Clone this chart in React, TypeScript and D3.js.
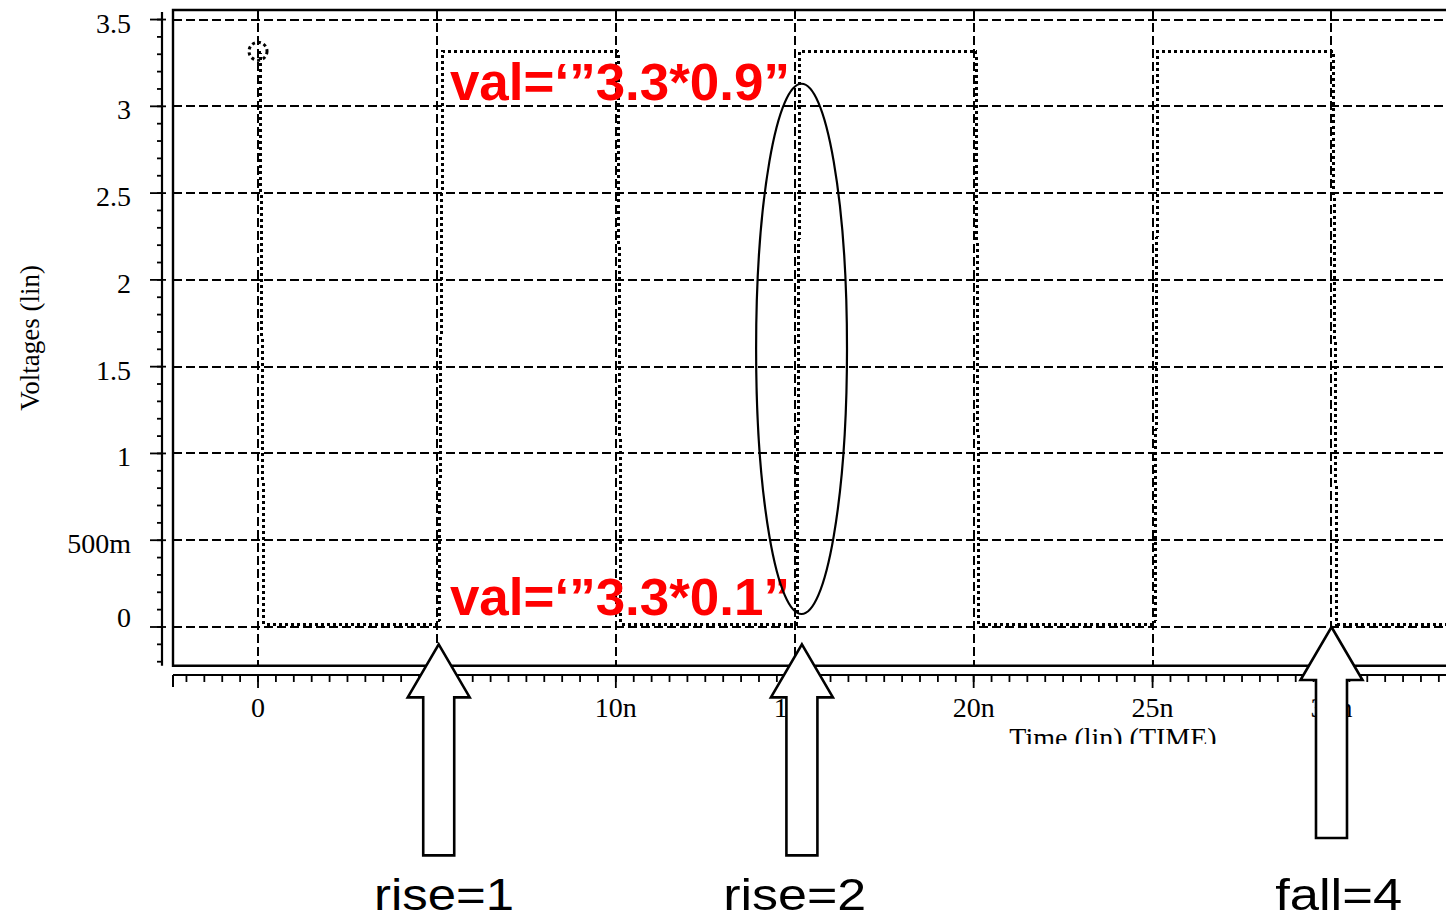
import React, { useEffect, useRef } from "react";
import * as d3 from "d3";

// transient waveform (time in ns, volts)
const timeNs = [0, 0.1, 5, 5.1, 10, 10.1, 15, 15.1, 20, 20.1, 25, 25.1, 30, 30.1, 34];
const voltage = [3.3, 0, 0, 3.3, 3.3, 0, 0, 3.3, 3.3, 0, 0, 3.3, 3.3, 0, 0];

const yMajorTicks = [0, 0.5, 1, 1.5, 2, 2.5, 3, 3.5];
const yTickLabels = ["0", "500m", "1", "1.5", "2", "2.5", "3", "3.5"];
const xMajorTicks = [0, 5, 10, 15, 20, 25, 30];
const xTickLabels = ["0", "5n", "10n", "15n", "20n", "25n", "30n"];

// annotations
const levelNotes = ["val=\u2018\u201d3.3*0.9\u201d", "val=\u2018\u201d3.3*0.1\u201d"];
const ellipseTime = [13.92, 16.46];
const ellipseVolt = [0.075, 3.13];
const arrowTimes = [5.05, 15.2, 30];
const arrowTipVolt = [-0.1, -0.1, 0];
const arrowLabels = ["rise=1", "rise=2", "fall=4"];
const arrowLabelTimes = [5.2, 15, 30.2];

const W = 1446, H = 921;

export default function App() {
    const ref = useRef(null);

    useEffect(() => {
        const svg = d3.select(ref.current);
        svg.selectAll("*").remove();

        const x = d3.scaleLinear().domain([-2.376, 33.2]).range([173, 1446]);
        const y = d3.scaleLinear().domain([-0.223, 3.555]).range([665.7, 10]);
        const serif = "'Liberation Serif', 'Times New Roman', serif";
        const sans = "'Liberation Sans', Arial, sans-serif";
        const px = v => Math.round(v); // snap to pixel grid, 2px strokes stay sharp

        // grid
        const grid = svg.append("g").attr("stroke", "#000").attr("stroke-width", 2)
            .attr("stroke-dasharray", "9,4").attr("shape-rendering", "crispEdges");
        grid.selectAll(".hg").data(yMajorTicks).join("line")
            .attr("x1", 173).attr("x2", W)
            .attr("y1", d => px(y(d))).attr("y2", d => px(y(d)));
        grid.selectAll(".vg").data(xMajorTicks).join("line")
            .attr("x1", d => px(x(d))).attr("x2", d => px(x(d)))
            .attr("y1", 10).attr("y2", 665.7);

        // frame
        svg.append("path")
            .attr("d", `M${W},10H173V665.7H${W}`)
            .attr("fill", "none").attr("stroke", "#000").attr("stroke-width", 2.4);

        // waveform (drawn a hair off the grid, like the simulator trace)
        const pts = timeNs.map((t, i) => [t, voltage[i]]);
        const line = d3.line().x(d => px(x(d[0])) + 2).y(d => px(y(d[1])) - 3);
        svg.append("path")
            .attr("d", line(pts))
            .attr("fill", "none").attr("stroke", "#000").attr("stroke-width", 3)
            .attr("stroke-dasharray", "3,3").attr("shape-rendering", "crispEdges");
        svg.append("circle")
            .attr("cx", x(timeNs[0])).attr("cy", y(voltage[0]) - 3).attr("r", 9)
            .attr("fill", "none").attr("stroke", "#000").attr("stroke-width", 3)
            .attr("stroke-dasharray", "3,3");

        // y axis
        const ax = svg.append("g").attr("stroke", "#000");
        ax.append("line").attr("x1", 162).attr("x2", 162).attr("y1", 12).attr("y2", 665.7).attr("stroke-width", 2.2);
        const yMinor = d3.range(-2, 36).map(d => d / 10);
        ax.selectAll(".ym").data(yMinor).join("line")
            .attr("x1", 157).attr("x2", 163)
            .attr("y1", d => y(d)).attr("y2", d => y(d)).attr("stroke-width", 1.8);
        ax.selectAll(".yM").data(yMajorTicks).join("line")
            .attr("x1", 150).attr("x2", 166)
            .attr("y1", d => y(d)).attr("y2", d => y(d)).attr("stroke-width", 1.8);

        svg.append("g").selectAll("text").data(yMajorTicks).join("text")
            .attr("x", 131)
            .attr("y", d => (d === 0 ? y(d) : y(d) + 13))
            .attr("text-anchor", "end")
            .attr("font-family", serif).attr("font-size", 28)
            .text((d, i) => yTickLabels[i]);

        svg.append("text")
            .attr("transform", "translate(39,338) rotate(-90)")
            .attr("text-anchor", "middle")
            .attr("font-family", serif).attr("font-size", 27)
            .text("Voltages (lin)");

        // x axis
        ax.append("line").attr("x1", 173).attr("x2", W).attr("y1", 675).attr("y2", 675).attr("stroke-width", 2.2);
        ax.append("line").attr("x1", 173).attr("x2", 173).attr("y1", 675).attr("y2", 687).attr("stroke-width", 2);
        const xMinor = d3.range(-4, 67).map(d => d / 2);
        ax.selectAll(".xm").data(xMinor).join("line")
            .attr("x1", d => x(d)).attr("x2", d => x(d))
            .attr("y1", 675).attr("y2", 682).attr("stroke-width", 1.8);
        ax.selectAll(".xM").data(xMajorTicks).join("line")
            .attr("x1", d => x(d)).attr("x2", d => x(d))
            .attr("y1", 675).attr("y2", 688).attr("stroke-width", 1.8);

        svg.append("g").selectAll("text").data(xMajorTicks).join("text")
            .attr("x", d => x(d)).attr("y", 717)
            .attr("text-anchor", "middle")
            .attr("font-family", serif).attr("font-size", 28)
            .text((d, i) => xTickLabels[i]);

        svg.append("clipPath").attr("id", "shot").append("rect")
            .attr("x", 0).attr("y", 0).attr("width", W).attr("height", 744);
        svg.append("text")
            .attr("clip-path", "url(#shot)")
            .attr("x", 1113).attr("y", 746.5)
            .attr("text-anchor", "middle")
            .attr("font-family", serif).attr("font-size", 28)
            .text("Time (lin) (TIME)");

        // red level notes
        svg.append("g").selectAll("text").data(levelNotes).join("text")
            .attr("x", x(5) + 13)
            .attr("y", (d, i) => (i === 0 ? y(3.3) + 46 : y(0) - 12))
            .attr("fill", "#ff0000")
            .attr("font-family", sans).attr("font-weight", "bold").attr("font-size", 51)
            .attr("textLength", 340).attr("lengthAdjust", "spacingAndGlyphs")
            .text(d => d);

        // ellipse around rise=2 edge
        svg.append("ellipse")
            .attr("cx", (x(ellipseTime[0]) + x(ellipseTime[1])) / 2)
            .attr("cy", (y(ellipseVolt[0]) + y(ellipseVolt[1])) / 2)
            .attr("rx", (x(ellipseTime[1]) - x(ellipseTime[0])) / 2)
            .attr("ry", (y(ellipseVolt[0]) - y(ellipseVolt[1])) / 2)
            .attr("fill", "none").attr("stroke", "#000").attr("stroke-width", 2.2);

        // block arrows
        const arrowPath = (cx, tip) =>
            `M${cx},${tip}L${cx + 31},${tip + 53}H${cx + 15.5}V${tip + 211}H${cx - 15.5}V${tip + 53}H${cx - 31}Z`;
        svg.append("g").selectAll("path").data(arrowTimes).join("path")
            .attr("d", (d, i) => arrowPath(x(d), y(arrowTipVolt[i])))
            .attr("fill", "#fff").attr("stroke", "#000").attr("stroke-width", 2.6)
            .attr("stroke-linejoin", "miter");

        svg.append("g").selectAll("text").data(arrowLabels).join("text")
            .attr("x", (d, i) => x(arrowLabelTimes[i])).attr("y", 910)
            .attr("text-anchor", "middle")
            .attr("font-family", sans).attr("font-size", 45)
            .attr("textLength", (d, i) => [140, 143, 127][i]).attr("lengthAdjust", "spacingAndGlyphs")
            .text(d => d);
    }, []);

    return (
        <svg ref={ref} width={W} height={H}
             style={{ position: "absolute", left: 0, top: 0, background: "#fff" }} />
    );
}
